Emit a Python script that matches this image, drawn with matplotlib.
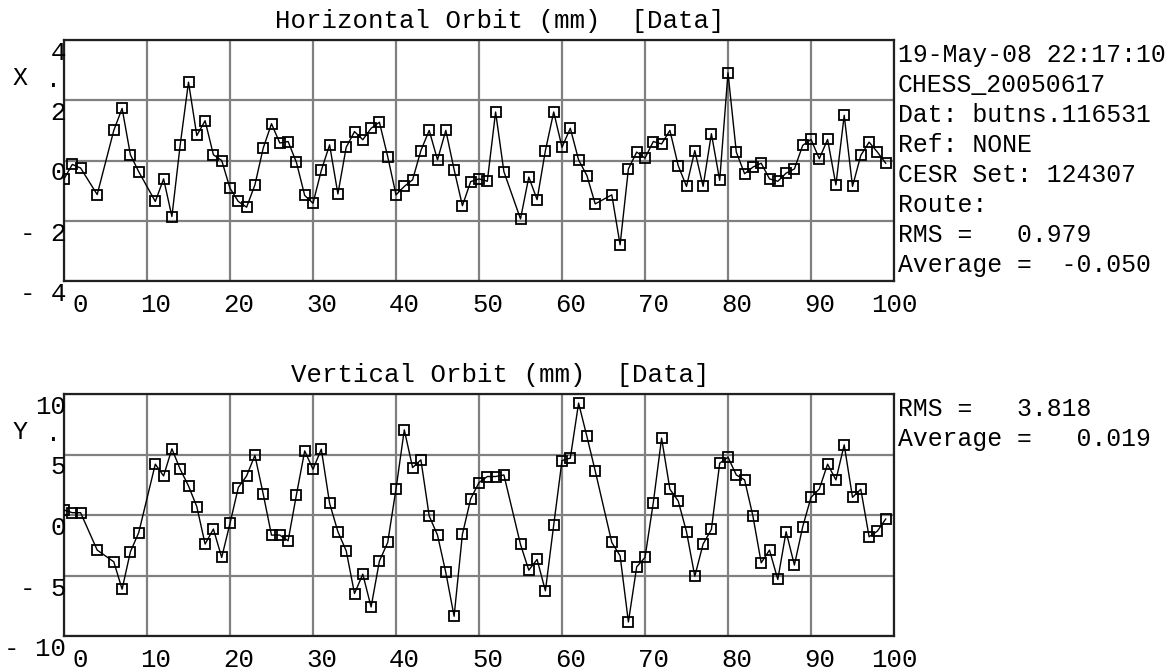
import matplotlib
matplotlib.use('Agg')
import matplotlib.pyplot as plt
import matplotlib.transforms as mtransforms

plt.rcParams['font.family'] = ['Liberation Mono', 'DejaVu Sans Mono']

# detector index (some missing) and measured orbit, mm
bpm = [0, 1, 2, 4, 6, 7, 8, 9, 11, 12, 13, 14, 15, 16, 17, 18, 19, 20, 21, 22,
       23, 24, 25, 26, 27, 28, 29, 30, 31, 32, 33, 34, 35, 36, 37, 38, 39, 40,
       41, 42, 43, 44, 45, 46, 47, 48, 49, 50, 51, 52, 53, 55, 56, 57, 58, 59,
       60, 61, 62, 63, 64, 66, 67, 68, 69, 70, 71, 72, 73, 74, 75, 76, 77, 78,
       79, 80, 81, 82, 83, 84, 85, 86, 87, 88, 89, 90, 91, 92, 93, 94, 95, 96,
       97, 98, 99]
x_orbit = [-0.61, -0.13, -0.25, -1.13, 1.00, 1.73, 0.19, -0.37, -1.36, -0.61,
           -1.86, 0.52, 2.60, 0.83, 1.32, 0.19, 0.00, -0.92, -1.36, -1.55,
           -0.81, 0.41, 1.22, 0.58, 0.63, -0.06, -1.16, -1.42, -0.33, 0.52,
           -1.11, 0.44, 0.96, 0.69, 1.07, 1.27, 0.13, -1.14, -0.86, -0.64,
           0.33, 1.00, 0.02, 1.00, -0.30, -1.50, -0.70, -0.61, -0.69, 1.61,
           -0.37, -1.94, -0.55, -1.30, 0.33, 1.61, 0.44, 1.07, 0.02, -0.50,
           -1.44, -1.14, -2.80, -0.28, 0.28, 0.08, 0.63, 0.55, 1.00, -0.17,
           -0.86, 0.33, -0.86, 0.89, -0.66, 2.91, 0.28, -0.44, -0.22, -0.09,
           -0.61, -0.69, -0.42, -0.28, 0.50, 0.70, 0.06, 0.70, -0.81, 1.50,
           -0.86, 0.17, 0.61, 0.28, -0.09]
y_orbit = [0.41, 0.19, 0.19, -2.90, -3.87, -6.13, -3.04, -1.46, 4.20, 3.23,
           5.47, 3.78, 2.40, 0.69, -2.40, -1.16, -3.51, -0.69, 2.27, 3.23,
           4.93, 1.74, -1.66, -1.66, -2.13, 1.66, 5.30, 3.78, 5.44, 0.97,
           -1.38, -2.96, -6.49, -4.89, -7.60, -3.81, -2.27, 2.15, 7.04, 3.92,
           4.56, -0.08, -1.66, -4.75, -8.37, -1.60, 1.34, 2.68, 3.18, 3.18,
           3.31, -2.43, -4.56, -3.67, -6.27, -0.83, 4.50, 4.70, 9.25, 6.49,
           3.65, -2.27, -3.37, -8.84, -4.28, -3.51, 1.02, 6.35, 2.13, 1.16,
           -1.38, -5.06, -2.40, -1.19, 4.28, 4.78, 3.31, 2.90, -0.08, -3.95,
           -2.90, -5.33, -1.38, -4.14, -0.97, 1.46, 2.15, 4.20, 2.90, 5.80,
           1.46, 2.13, -1.80, -1.33, -0.33]

x_ticks = list(range(0, 101, 10))
h_ticks = [4, 2, 0, -2, -4]
v_ticks = [10, 5, 0, -5, -10]

info_top = ['19-May-08 22:17:10', 'CHESS_20050617', 'Dat: butns.116531',
            'Ref: NONE', 'CESR Set: 124307', 'Route:',
            'RMS =   0.979', 'Average =  -0.050']
info_bot = ['RMS =   3.818', 'Average =   0.019']

W, H = 1171, 670
fig = plt.figure(figsize=(W / 100, H / 100), dpi=100)


def fpos(x, y):
    return x / W, 1 - y / H


def panel(top, bottom, xs, ys, yticks, title, letter, info):
    ax = fig.add_axes([64 / W, 1 - bottom / H, 830 / W, (bottom - top) / H])
    ax.plot(xs, ys, color='black', lw=1.0, marker='s', ms=6.5,
            mfc='none', mec='black', mew=1.3, zorder=3)
    ax.set_xlim(0, 100)
    ax.set_ylim(yticks[-1], yticks[0])
    ax.set_xticks(x_ticks)
    ax.set_yticks(yticks)
    ax.tick_params(length=0, labelbottom=False, labelleft=False)
    ax.grid(True, color='#808080', lw=1.6)
    for s in ax.spines.values():
        s.set_color('#202020')
        s.set_linewidth(1.6)

    bx = mtransforms.blended_transform_factory(ax.transData, ax.transAxes)
    by = mtransforms.blended_transform_factory(ax.transAxes, ax.transData)
    tx = mtransforms.offset_copy(bx, fig=fig, x=24, y=-24, units='dots')
    ty = mtransforms.offset_copy(by, fig=fig, x=2, y=-1, units='dots')
    for v in x_ticks:
        ax.text(v, 0, str(v), transform=tx, ha='right', va='center',
                fontsize=18.5)
    for v in yticks:
        ax.text(0, v, str(v).replace('-', '- '), transform=ty, ha='right',
                va='top', fontsize=18.5)

    fig.text(*fpos(500, top - 12), title, ha='center', va='baseline',
             fontsize=18.5)
    fig.text(*fpos(20, top + 38), letter, ha='center', va='center',
             fontsize=18)
    fig.text(*fpos(53, top + 47), '.', ha='center', va='baseline',
             fontsize=18)
    for i, line in enumerate(info):
        fig.text(*fpos(898, top + 15 + 30 * i), line, ha='left',
                 va='center', fontsize=17.8)
    return ax


panel(40, 281, bpm, x_orbit, h_ticks, 'Horizontal Orbit (mm)  [Data]',
      'X', info_top)
panel(394, 636, bpm, y_orbit, v_ticks, 'Vertical Orbit (mm)  [Data]',
      'Y', info_bot)

fig.savefig('out.png', dpi=100)
